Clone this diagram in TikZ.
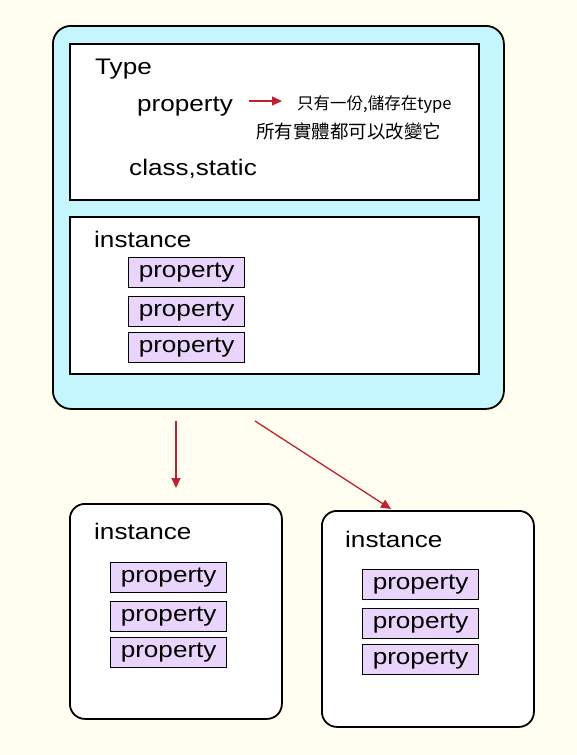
\documentclass[tikz,border=0pt]{standalone}
\usepackage{fontspec}
\setmainfont{Liberation Sans}[FakeStretch=1.16]
\newfontfamily\cjk{Noto Sans CJK TC}
\usetikzlibrary{arrows.meta}
\definecolor{bgcol}{RGB}{255,254,240}
\definecolor{cyanfill}{RGB}{198,246,253}
\definecolor{propfill}{RGB}{233,212,251}
\definecolor{arrowred}{RGB}{192,32,48}
\begin{document}
\begin{tikzpicture}[x=1pt,y=-1pt,
  txt/.style={anchor=base west,inner sep=0pt,font=\fontsize{22.5}{27}\selectfont},
  prop/.style={draw,line width=1.3pt,fill=propfill,anchor=north west,minimum width=116pt,minimum height=30pt,text height=16pt,text depth=6pt,inner sep=0pt,font=\fontsize{22.5}{27}\selectfont},
  outerbox/.style={draw,line width=1.8pt,rounded corners=18pt,anchor=north west,inner sep=0pt},
  innerbox/.style={draw,line width=1.5pt,fill=white,anchor=north west,inner sep=0pt},
  redarrow/.style={draw=arrowred,line width=1.3pt,-{Triangle[length=10pt,width=9pt]}}]
\fill[bgcol] (0,0) rectangle (577,755);
\useasboundingbox (0,0) rectangle (577,755);
% outer type box
\node[outerbox,fill=cyanfill,minimum width=451pt,minimum height=383pt] (outer) at (52,25) {};
\node[innerbox,minimum width=409pt,minimum height=156pt] (typebox) at (69,43) {};
\node[innerbox,minimum width=409pt,minimum height=157pt] (instbox) at (69,216) {};
\node[txt] (typelbl) at (95,74) {Type};
\node[txt] (tprop) at (137,111) {property};
\node[anchor=base west,inner sep=0pt,font=\cjk\fontsize{16.5}{20}\selectfont] (note1) at (297,109) {只有一份,儲存在type};
\node[anchor=base west,inner sep=0pt,font=\cjk\fontsize{18.5}{22}\selectfont] (note2) at (256,138) {所有實體都可以改變它};
\node[txt] (cls) at (129,175) {class,static};
\coordinate (tpa) at (249,101);
\coordinate (tpb) at (282,101);
\draw[redarrow] (tpa) -- (tpb);
\node[txt] (ilbl) at (94,247) {instance};
\node[prop] (ip1) at (128,257) {property};
\node[prop] (ip2) at (128,296) {property};
\node[prop] (ip3) at (128,332) {property};
% bottom left
\node[outerbox,fill=white,rounded corners=15pt,minimum width=212pt,minimum height=215pt] (lbox) at (69,503) {};
\node[txt] (llbl) at (94,539) {instance};
\node[prop] (lp1) at (110,562) {property};
\node[prop] (lp2) at (110,601) {property};
\node[prop] (lp3) at (110,637) {property};
% bottom right
\node[outerbox,fill=white,rounded corners=15pt,minimum width=212pt,minimum height=216pt] (rbox) at (321,510) {};
\node[txt] (rlbl) at (345,547) {instance};
\node[prop] (rp1) at (362,569) {property};
\node[prop] (rp2) at (362,608) {property};
\node[prop] (rp3) at (362,644) {property};
% arrows
\coordinate (a1s) at (176,421);
\coordinate (a1e) at (176,488);
\coordinate (a2s) at (255,421);
\coordinate (a2e) at (391,509);
\draw[redarrow] (a1s) -- (a1e);
\draw[redarrow] (a2s) -- (a2e);
\end{tikzpicture}
\end{document}
